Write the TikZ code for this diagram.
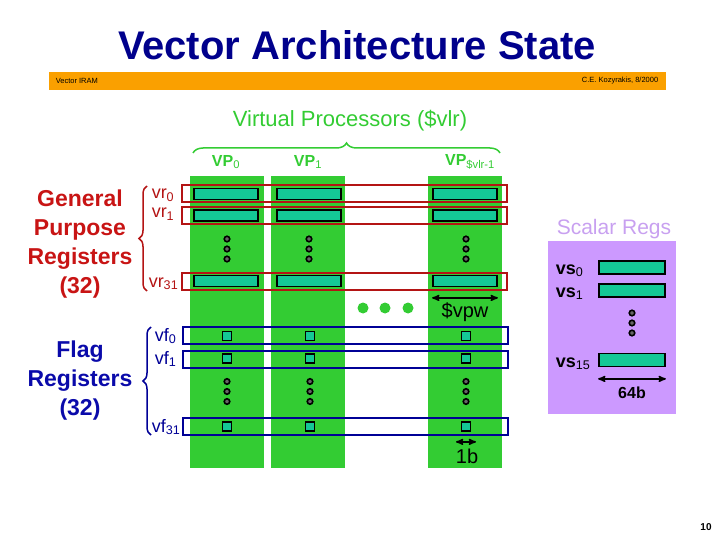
\documentclass[tikz,border=0pt]{standalone}
\usepackage{fontspec}
\setmainfont{Liberation Sans}
\usetikzlibrary{arrows,decorations.pathreplacing,positioning}
\definecolor{titleblue}{RGB}{0,0,140}
\definecolor{barorange}{RGB}{250,160,0}
\definecolor{vpgreen}{RGB}{51,204,51}
\definecolor{regteal}{RGB}{20,200,150}
\definecolor{gprred}{RGB}{200,20,20}
\definecolor{rowred}{RGB}{180,20,20}
\definecolor{flagblue}{RGB}{10,10,170}
\definecolor{rowblue}{RGB}{0,0,150}
\definecolor{scalarbg}{RGB}{204,153,255}
\definecolor{scalartext}{RGB}{200,160,240}

\begin{document}
\begin{tikzpicture}
[x=1pt, y=-1pt, line width=1.5pt, >=stealth',
vpcol/.style={rectangle, fill=vpgreen, inner sep=0pt, minimum width=74pt, minimum height=292pt},
vreg/.style={rectangle, draw=black, line width=1.8pt, fill=regteal, inner sep=0pt, minimum width=64pt, minimum height=11pt},
freg/.style={rectangle, draw=black, line width=1.8pt, fill=regteal, inner sep=0pt, minimum size=9pt},
vrrow/.style={rectangle, draw=rowred, line width=2pt, inner sep=0pt, minimum width=325pt, minimum height=17pt},
vfrow/.style={rectangle, draw=rowblue, line width=2pt, inner sep=0pt, minimum width=325pt, minimum height=17pt},
regdot/.style={circle, draw=black, fill=black!60, line width=1.6pt, inner sep=0pt, minimum size=5.5pt},
bigdot/.style={circle, fill=vpgreen, inner sep=0pt, minimum size=11pt},
vdots/.pic={\node[regdot] (-a) at (0,-10) {}; \node[regdot] (-b) at (0,0) {}; \node[regdot] (-c) at (0,10) {};},
vplabel/.style={text=vpgreen, font=\bfseries\fontsize{16}{18}\selectfont},
reglabel/.style={anchor=base west, inner sep=0pt, font=\fontsize{18}{20}\selectfont},
biglabel/.style={align=center, font=\bfseries\fontsize{23}{29}\selectfont},
dimlabel/.style={font=\fontsize{20}{22}\selectfont}]

\useasboundingbox (0,0) rectangle (720,540);

\node[text=titleblue, font=\bfseries\fontsize{40}{48}\selectfont] (title) at (357,45) {Vector Architecture State};
\node[rectangle, fill=barorange, inner sep=0pt, minimum width=617pt, minimum height=18pt] (bar) at (357.5,81) {};
\node[anchor=west, inner sep=0pt, font=\fontsize{7.5}{8}\selectfont] (iram) at (55,81) {Vector IRAM};
\node[anchor=east, inner sep=0pt, font=\fontsize{7.5}{8}\selectfont] (who) at (659,81) {C.E. Kozyrakis, 8/2000};

\node[text=vpgreen, font=\fontsize{22}{26}\selectfont] (vps) at (350,121) {Virtual Processors (\$vlr)};
\coordinate (braceL) at (193,153);
\coordinate (braceR) at (500,153);
\draw[vpgreen, decorate, decoration={brace, amplitude=10pt}] (braceL) -- (braceR);

\node[vplabel] (vp0) at (226,162) {VP\textsubscript{\normalfont 0}};
\node[vplabel] (vp1) at (308,162) {VP\textsubscript{\normalfont 1}};
\node[vplabel] (vpn) at (470,162) {VP\textsubscript{\normalfont \$vlr-1}};

\node[vpcol] (col0) at (227,322) {};
\node[vpcol] (col1) at (308,322) {};
\node[vpcol] (coln) at (465,322) {};

\node[vreg] (vr0a) at (226,194) {};
\node[vreg] (vr0b) at (309,194) {};
\node[vreg] (vr0n) at (465,194) {};
\node[vreg] (vr1a) at (226,215.5) {};
\node[vreg] (vr1b) at (309,215.5) {};
\node[vreg] (vr1n) at (465,215.5) {};
\node[vreg] (vr31a) at (226,281) {};
\node[vreg] (vr31b) at (309,281) {};
\node[vreg] (vr31n) at (465,281) {};

\node[vrrow] (rowvr0) at (344.5,194) {};
\node[vrrow] (rowvr1) at (344.5,216) {};
\node[vrrow] (rowvr31) at (344.5,281.5) {};

\pic (gdotsa) at (227,249) {vdots};
\pic (gdotsb) at (309,249) {vdots};
\pic (gdotsn) at (466,249) {vdots};

\node[bigdot] (more1) at (363,308) {};
\node[bigdot] (more2) at (385,308) {};
\node[bigdot] (more3) at (408,308) {};

\draw[<->] ([yshift=-10.5pt]vr31n.south west) -- ([yshift=-10.5pt]vr31n.south east);
\node[dimlabel] (vpw) at (465,312) {\$vpw};

\node[freg] (vf0a) at (227,336) {};
\node[freg] (vf0b) at (310,336) {};
\node[freg] (vf0n) at (466,336) {};
\node[freg] (vf1a) at (227,358.5) {};
\node[freg] (vf1b) at (310,358.5) {};
\node[freg] (vf1n) at (466,358.5) {};
\node[freg] (vf31a) at (227,426.5) {};
\node[freg] (vf31b) at (310,426.5) {};
\node[freg] (vf31n) at (466,426.5) {};

\node[vfrow] (rowvf0) at (345,335.5) {};
\node[vfrow] (rowvf1) at (345,359) {};
\node[vfrow] (rowvf31) at (345,426) {};

\pic (fdotsa) at (227,391.5) {vdots};
\pic (fdotsb) at (310,391.5) {vdots};
\pic (fdotsn) at (466,391.5) {vdots};

\draw[<->] ([xshift=-10pt, yshift=-10pt]vf31n.south) -- ([xshift=10pt, yshift=-10pt]vf31n.south);
\node[dimlabel] (onebit) at (467,456) {1b};

\node[biglabel, text=gprred] (gpr) at (80,244) {General\\Purpose\\Registers\\(32)};
\node[biglabel, text=flagblue] (flags) at (80,381) {Flag\\Registers\\(32)};

\coordinate (gprtop) at (147,186);
\coordinate (gprbot) at (147,291);
\draw[rowred, decorate, decoration={brace, amplitude=8pt}] (gprbot) -- (gprtop);
\coordinate (flagtop) at (151,327);
\coordinate (flagbot) at (151,435);
\draw[rowblue, decorate, decoration={brace, amplitude=8pt}] (flagbot) -- (flagtop);

\node[reglabel, text=rowred] (lvr0) at (151,199) {vr\textsubscript{0}};
\node[reglabel, text=rowred] (lvr1) at (151,218) {vr\textsubscript{1}};
\node[reglabel, text=rowred] (lvr31) at (148,287) {vr\textsubscript{31}};
\node[reglabel, text=rowblue] (lvf0) at (154,341) {vf\textsubscript{0}};
\node[reglabel, text=rowblue] (lvf1) at (154,364) {vf\textsubscript{1}};
\node[reglabel, text=rowblue] (lvf31) at (151,432) {vf\textsubscript{31}};

\node[text=scalartext, font=\fontsize{21}{24}\selectfont] (scalar) at (614,229) {Scalar Regs};
\node[rectangle, fill=scalarbg, inner sep=0pt, minimum width=128pt, minimum height=173pt] (sregs) at (612,327.5) {};
\node[vreg, minimum width=66pt, minimum height=13pt] (vs0) at (632,267.5) {};
\node[vreg, minimum width=66pt, minimum height=13pt] (vs1) at (632,290.5) {};
\node[vreg, minimum width=66pt, minimum height=13pt] (vs15) at (632,360) {};
\node[reglabel, font=\bfseries\fontsize{18}{20}\selectfont] (lvs0) at (555,274) {vs\textsubscript{\normalfont 0}};
\node[reglabel, font=\bfseries\fontsize{18}{20}\selectfont] (lvs1) at (555,297) {vs\textsubscript{\normalfont 1}};
\node[reglabel, font=\bfseries\fontsize{18}{20}\selectfont] (lvs15) at (555,367) {vs\textsubscript{\normalfont 15}};
\pic (sdots) at (632,323) {vdots};
\draw[<->] ([yshift=-11.5pt]vs15.south west) -- ([yshift=-11.5pt]vs15.south east);
\node[font=\bfseries\fontsize{16}{18}\selectfont] (width) at (632,393) {64b};

\node[font=\bfseries\fontsize{10}{12}\selectfont] (page) at (706,527) {10};
\end{tikzpicture}
\end{document}
